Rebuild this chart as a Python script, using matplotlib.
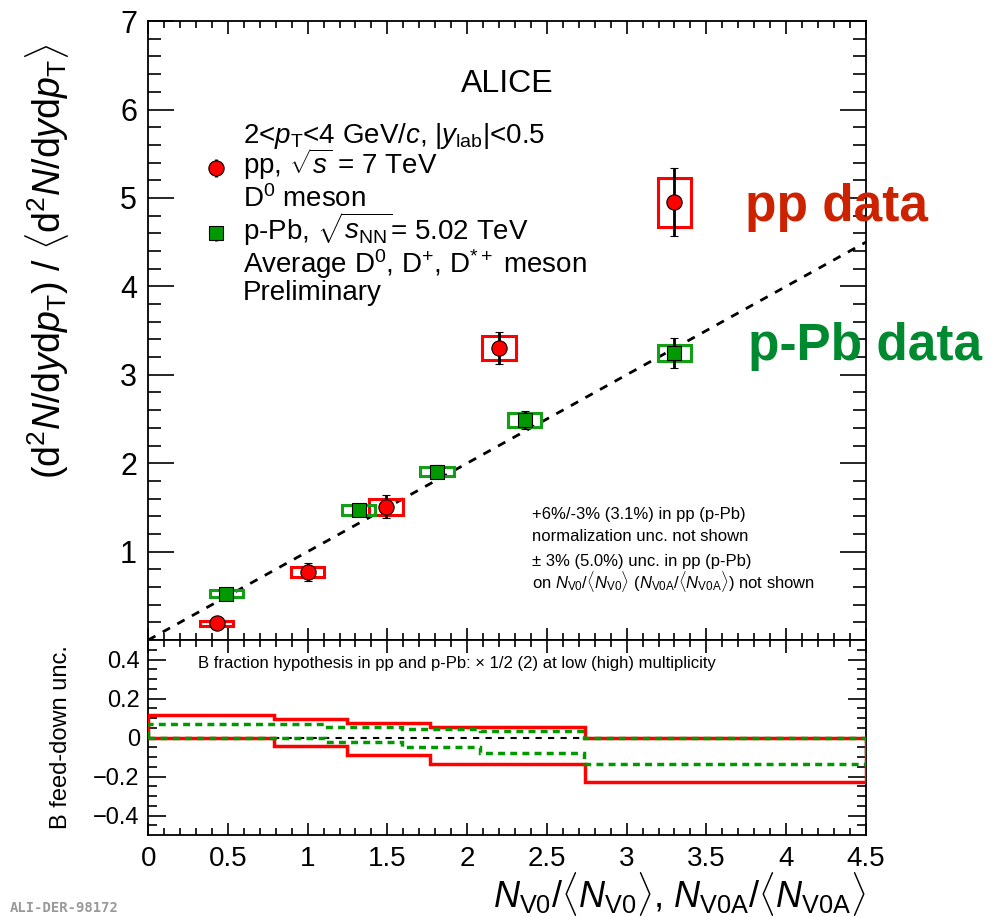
import numpy as np
import matplotlib.pyplot as plt

plt.rcParams['font.family'] = ['Liberation Sans', 'DejaVu Sans']
plt.rcParams['mathtext.fontset'] = 'custom'
plt.rcParams['mathtext.rm'] = 'Liberation Sans'
plt.rcParams['mathtext.it'] = 'Liberation Sans:italic'
plt.rcParams['mathtext.bf'] = 'Liberation Sans:bold'

# pp, D0 meson (red)
pp_x = [0.43, 1.0, 1.49, 2.2, 3.3]
pp_y = [0.19, 0.77, 1.505, 3.305, 4.95]
pp_stat = [0.02, 0.1, 0.13, 0.18, 0.385]
pp_syst = [0.03, 0.055, 0.085, 0.135, 0.28]

# p-Pb, average D meson (green)
ppb_x = [0.49, 1.32, 1.81, 2.36, 3.3]
ppb_y = [0.525, 1.475, 1.905, 2.49, 3.245]
ppb_stat = [0.04, 0.04, 0.07, 0.1, 0.17]
ppb_syst = [0.04, 0.055, 0.055, 0.075, 0.094]

# B feed-down uncertainty bands
pp_edges = [0, 0.79, 1.245, 1.77, 2.74, 4.5]
pp_fd_up = [0.118, 0.095, 0.073, 0.053, 0.0]
pp_fd_lo = [0.0, -0.045, -0.092, -0.135, -0.229]
ppb_edges = [0, 1.11, 1.59, 2.08, 2.73, 4.5]
ppb_fd_up = [0.067, 0.056, 0.045, 0.031, 0.0]
ppb_fd_lo = [0.0, -0.024, -0.05, -0.078, -0.135]

red = '#ff0000'
green = '#009900'
W, H = 1001, 917

fig = plt.figure(figsize=(W / 100, H / 100), dpi=100)
ax = fig.add_axes([0.148, 0.302, 0.717, 0.675])
ax2 = fig.add_axes([0.148, 0.0894, 0.717, 0.2126], sharex=ax)

# diagonal
xl = np.array([0, 4.5])
ax.plot(xl, xl, ls=(0, (3, 3)), color='black', lw=2, zorder=2)

# systematic boxes
ax.bar(pp_x, 2 * np.array(pp_syst), bottom=np.array(pp_y) - pp_syst, width=0.21,
       fill=False, edgecolor=red, lw=2.2, zorder=3)
ax.bar(ppb_x, 2 * np.array(ppb_syst), bottom=np.array(ppb_y) - ppb_syst, width=0.21,
       fill=False, edgecolor='#14a014', lw=2.2, zorder=3)

ax.errorbar(pp_x, pp_y, yerr=pp_stat, fmt='o', ms=11, mfc=red, mec='black', mew=0.8,
            ecolor='black', elinewidth=2, capsize=3, capthick=2, zorder=5)
ax.errorbar(ppb_x, ppb_y, yerr=ppb_stat, fmt='s', ms=10, mfc=green, mec='black', mew=0.8,
            ecolor='black', elinewidth=2, capsize=3, capthick=2, zorder=5)

ax.set_xlim(0, 4.5)
ax.set_ylim(0, 7)
ax.set_yticks([1, 2, 3, 4, 5, 6, 7])
ax.set_yticks(np.arange(0.2, 7.0, 0.2), minor=True)
ax.set_xticks(np.arange(0, 4.51, 0.5))
ax.set_xticks(np.arange(0, 4.51, 0.1), minor=True)
ax.tick_params(axis='both', which='both', direction='in', top=True, right=True, width=1.2)
ax.tick_params(axis='y', which='major', length=19, labelsize=22, pad=8)
ax.tick_params(axis='y', which='minor', length=9.5)
ax.tick_params(axis='x', which='major', length=9)
ax.tick_params(axis='x', which='minor', length=5)
ax.tick_params(axis='x', labelbottom=False)
for s in ax.spines.values():
    s.set_linewidth(1.3)

ax.set_ylabel(r'(d$^2$$N$/d$y$d$p_{\rm T}$) / $\langle$d$^2$$N$/d$y$d$p_{\rm T}$$\rangle$',
              fontsize=27)
ax.yaxis.set_label_coords(-0.108, 0.612)

# legend block
ax.text(0.5, (640 - 92) / 619, 'ALICE', transform=ax.transAxes, fontsize=23,
        ha='center', va='baseline')
tx = (243 - 148) / 718
lines = [
    (143, r'2<$p_{\rm T}$<4 GeV/$c$, |$y_{\rm lab}$|<0.5'),
    (174, r'pp, $\sqrt{s}$ = 7 TeV'),
    (207, r'D$^{0}$ meson'),
    (240, r'p-Pb, $\sqrt{s_{\rm NN}}$= 5.02 TeV'),
    (273, r'Average D$^{0}$, D$^{+}$, D$^{*+}$ meson'),
    (300, 'Preliminary'),
]
for yp, s in lines:
    ax.text(tx, (640 - yp) / 619, s, transform=ax.transAxes, fontsize=20,
            ha='left', va='baseline')
ax.errorbar([(216 - 148) / 718], [(640 - 168) / 619], yerr=[0.014], fmt='o', ms=11,
            mfc=red, mec='black', mew=0.8, ecolor='black', elinewidth=2,
            transform=ax.transAxes, clip_on=False, zorder=6)
ax.errorbar([(216 - 148) / 718], [(640 - 233) / 619], yerr=[0.012], fmt='s', ms=10,
            mfc=green, mec='black', mew=0.8, ecolor='black', elinewidth=2,
            transform=ax.transAxes, clip_on=False, zorder=6)

notes = [
    (519, '+6%/-3% (3.1%) in pp (p-Pb)'),
    (541, 'normalization unc. not shown'),
    (566, '± 3% (5.0%) unc. in pp (p-Pb)'),
    (588, r'on $N_{\rm V0}$/$\langle N_{\rm V0}\rangle$ ($N_{\rm V0A}$/$\langle N_{\rm V0A}\rangle$) not shown'),
]
for yp, s in notes:
    ax.text((532 - 148) / 718, (640 - yp) / 619, s, transform=ax.transAxes,
            fontsize=12, ha='left', va='baseline')

fig.text(745 / W, 1 - 221 / H, 'pp data', color='#cc2200', fontsize=37,
         fontweight='bold', ha='left', va='baseline')
fig.text(748 / W, 1 - 360 / H, 'p-Pb data', color='#008a30', fontsize=37,
         fontweight='bold', ha='left', va='baseline')

# lower panel: B feed-down
ax2.axhline(0, color='black', ls=(0, (3, 3)), lw=1.5, zorder=2)
ax2.stairs(pp_fd_up, pp_edges, color=red, lw=2.5, baseline=0, zorder=3)
ax2.stairs(pp_fd_lo, pp_edges, color=red, lw=2.5, baseline=0, zorder=3)
ax2.stairs(ppb_fd_up, ppb_edges, color=green, lw=2.5, ls=(0, (2, 1.5)), baseline=0, zorder=4)
ax2.stairs(ppb_fd_lo, ppb_edges, color=green, lw=2.5, ls=(0, (2, 1.5)), baseline=0, zorder=4)

ax2.set_ylim(-0.5, 0.5)
ax2.set_yticks([-0.4, -0.2, 0, 0.2, 0.4])
ax2.set_yticklabels(['\u22120.4', '\u22120.2', '0', '0.2', '0.4'])
ax2.set_yticks(np.arange(-0.45, 0.5, 0.05), minor=True)
ax2.tick_params(axis='both', which='both', direction='in', top=True, right=True, width=1.2)
ax2.tick_params(axis='y', which='major', length=13, labelsize=17, pad=6)
ax2.tick_params(axis='y', which='minor', length=6.5)
ax2.tick_params(axis='x', which='major', length=9, labelsize=20, pad=8)
ax2.tick_params(axis='x', which='minor', length=5)
ax2.set_xticks(np.arange(0, 4.51, 0.5))
ax2.set_xticklabels(['0', '0.5', '1', '1.5', '2', '2.5', '3', '3.5', '4', '4.5'])
for s in ax2.spines.values():
    s.set_linewidth(1.3)

ax2.text(50 / 718, (835 - 668) / 195, 'B fraction hypothesis in pp and p-Pb: \u00d7 1/2 (2) at low (high) multiplicity',
         transform=ax2.transAxes, fontsize=12, ha='left', va='baseline')
ax2.set_ylabel('B feed-down unc.', fontsize=17)
ax2.yaxis.set_label_coords((72 - 148) / 718, 0.5)

ax2.set_xlabel(r'$N_{\rm V0}/\langle N_{\rm V0}\rangle$, $N_{\rm V0A}/\langle N_{\rm V0A}\rangle$',
               fontsize=26)
ax2.xaxis.set_label_coords(1.0, (835 - 870) / 195)
ax2.xaxis.label.set_ha('right')

fig.text(10 / W, 1 - 912 / H, 'ALI-DER-98172', color='#999999', fontsize=10,
         family='DejaVu Sans Mono', fontweight='bold', ha='left', va='baseline')

fig.savefig('out.png', dpi=100)
